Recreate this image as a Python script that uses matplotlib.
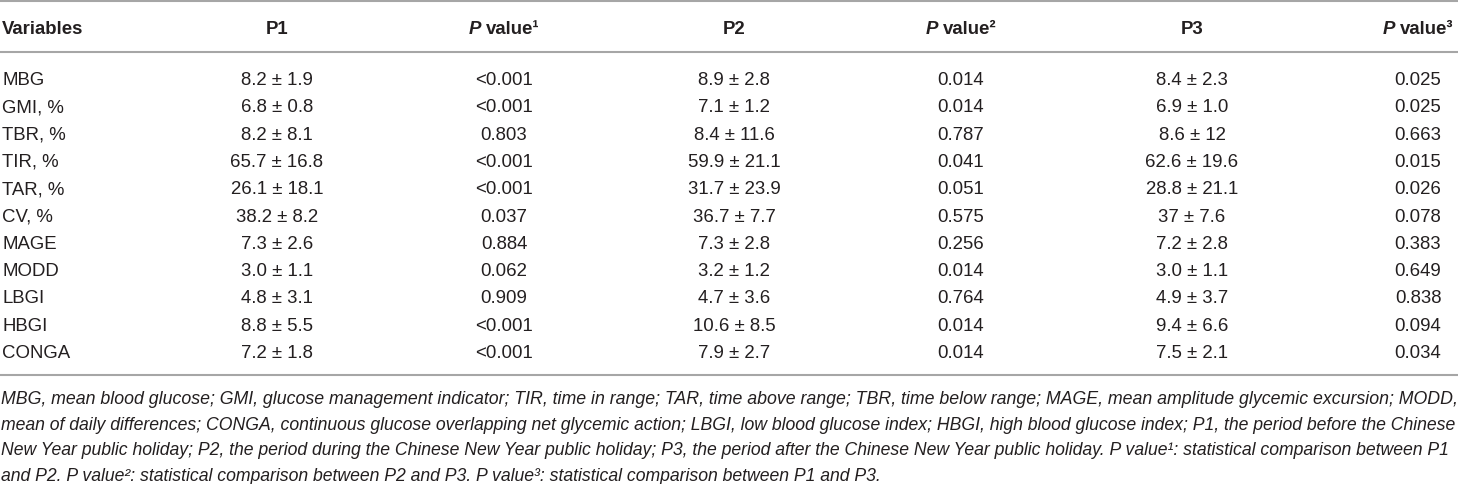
import matplotlib
matplotlib.use("Agg")
import matplotlib.pyplot as plt
from matplotlib.font_manager import FontProperties

# ---------------- data ----------------
columns = ["Variables", "P1", "P value¹", "P2", "P value²", "P3", "P value³"]
variables = ["MBG", "GMI, %", "TBR, %", "TIR, %", "TAR, %", "CV, %",
             "MAGE", "MODD", "LBGI", "HBGI", "CONGA"]
p1_vals = ["8.2 ± 1.9", "6.8 ± 0.8", "8.2 ± 8.1", "65.7 ± 16.8", "26.1 ± 18.1",
           "38.2 ± 8.2", "7.3 ± 2.6", "3.0 ± 1.1", "4.8 ± 3.1", "8.8 ± 5.5", "7.2 ± 1.8"]
pval1 = ["<0.001", "<0.001", "0.803", "<0.001", "<0.001", "0.037",
         "0.884", "0.062", "0.909", "<0.001", "<0.001"]
p2_vals = ["8.9 ± 2.8", "7.1 ± 1.2", "8.4 ± 11.6", "59.9 ± 21.1", "31.7 ± 23.9",
           "36.7 ± 7.7", "7.3 ± 2.8", "3.2 ± 1.2", "4.7 ± 3.6", "10.6 ± 8.5", "7.9 ± 2.7"]
pval2 = ["0.014", "0.014", "0.787", "0.041", "0.051", "0.575",
         "0.256", "0.014", "0.764", "0.014", "0.014"]
p3_vals = ["8.4 ± 2.3", "6.9 ± 1.0", "8.6 ± 12", "62.6 ± 19.6", "28.8 ± 21.1",
           "37 ± 7.6", "7.2 ± 2.8", "3.0 ± 1.1", "4.9 ± 3.7", "9.4 ± 6.6", "7.5 ± 2.1"]
pval3 = ["0.025", "0.025", "0.663", "0.015", "0.026", "0.078",
         "0.383", "0.649", "0.838", "0.094", "0.034"]
footnote_lines = [
    "MBG, mean blood glucose; GMI, glucose management indicator; TIR, time in range; TAR, time above range; "
    "TBR, time below range; MAGE, mean amplitude glycemic excursion; MODD,",
    "mean of daily differences; CONGA, continuous glucose overlapping net glycemic action; LBGI, low blood "
    "glucose index; HBGI, high blood glucose index; P1, the period before the Chinese",
    "New Year public holiday; P2, the period during the Chinese New Year public holiday; P3, the period after "
    "the Chinese New Year public holiday. P value¹: statistical comparison between P1",
    "and P2. P value²: statistical comparison between P2 and P3. P value³: statistical comparison between P1 and P3.",
]

# ---------------- layout ----------------
W, H = 1460, 484
fig = plt.figure(figsize=(W / 100, H / 100), dpi=100)
ax = fig.add_axes([0, 0, 1, 1])
ax.set_xlim(0, W)
ax.set_ylim(H, 0)
ax.axis("off")

FAM = ["Liberation Sans", "DejaVu Sans"]
TXT = "#231f20"
LINE = "#a6a6a6"
FS = 13.4

col_x = [2, 277, 504, 734, 961, 1192, 1418]
header_base = 33.5
row_base0 = 85.0
row_step = 27.3

# rules
for y in (1.2, 52, 374.5):
    ax.plot([0, W - 2], [y, y], color=LINE, lw=1.5, solid_capstyle="butt")

renderer = fig.canvas.get_renderer()


def width_of(t):
    bb = t.get_window_extent(renderer=renderer)
    return bb.width


# header
ax.text(col_x[0], header_base, columns[0], family=FAM, fontsize=FS, fontweight="bold",
        color=TXT, ha="left", va="baseline")
for j in range(1, 7):
    label = columns[j]
    if label.startswith("P value"):
        tP = ax.text(0, header_base, "P", family=FAM, fontsize=FS, fontweight="bold",
                     fontstyle="italic", color=TXT, ha="left", va="baseline")
        tV = ax.text(0, header_base, label[2:], family=FAM, fontsize=FS, fontweight="bold",
                     color=TXT, ha="left", va="baseline")
        gap = 0.278 * FS * 100 / 72
        wP, wV = width_of(tP), width_of(tV)
        total = wP + gap + wV
        x0 = col_x[j] - total / 2
        tP.set_x(x0)
        tV.set_x(x0 + wP + gap)
    else:
        ax.text(col_x[j], header_base, label, family=FAM, fontsize=FS, fontweight="bold",
                color=TXT, ha="center", va="baseline")

# body
body_cols = [p1_vals, pval1, p2_vals, pval2, p3_vals, pval3]
for i, var in enumerate(variables):
    yb = row_base0 + i * row_step
    ax.text(col_x[0], yb, var, family=FAM, fontsize=FS, color=TXT, ha="left", va="baseline")
    for j, col in enumerate(body_cols, start=1):
        ax.text(col_x[j], yb, col[i], family=FAM, fontsize=FS, color=TXT,
                ha="center", va="baseline")

# footnote (justified lines fitted to the full width)
foot_base0 = 404.0
foot_step = 25.6
target = W - 3
sizes = []
for k, line in enumerate(footnote_lines):
    yb = foot_base0 + k * foot_step
    t = ax.text(1, yb, line, family=FAM, fontsize=FS, fontstyle="italic",
                color=TXT, ha="left", va="baseline")
    if k < len(footnote_lines) - 1:
        w = width_of(t)
        fs = FS * target / w
        t.set_fontsize(fs)
        sizes.append(fs)
    else:
        t.set_fontsize(sum(sizes) / len(sizes))

fig.savefig("out.png", dpi=100)
